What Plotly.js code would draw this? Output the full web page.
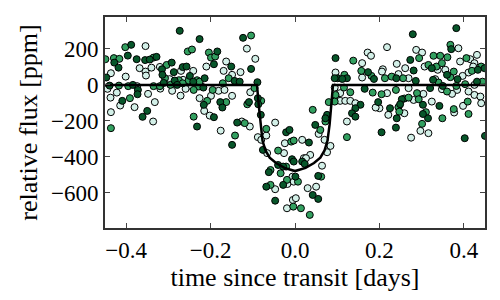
<!DOCTYPE html>
<html>
<head>
<meta charset="utf-8">
<script src="https://cdn.plot.ly/plotly-3.0.1.min.js"></script>
<style>html,body{margin:0;padding:0;background:#fff;}#chart{width:500px;height:300px;}</style>
</head>
<body>
<div id="chart"></div>
<script>
// Observations, dark-green group (time [days], flux [ppm])
const darkT = [-0.273,-0.388,-0.396,-0.428,-0.418,-0.375,-0.355,-0.344,-0.328,-0.315,-0.292,-0.266,-0.257,-0.249,-0.447,-0.314,-0.287,-0.285,-0.241,-0.439,-0.384,-0.311,-0.279,-0.372,-0.373,-0.409,-0.350,-0.361,-0.232,
  -0.123,-0.226,-0.184,-0.192,-0.151,-0.104,-0.143,-0.131,-0.214,-0.089,-0.217,-0.177,-0.172,-0.216,-0.109,-0.088,-0.087,-0.081,-0.192,-0.137,-0.149,-0.021,-0.013,-0.076,-0.007,-0.040,-0.028,-0.062,-0.028,-0.068,-0.047,
  0.048,0.205,0.033,0.017,0.023,-0.003,0.001,0.055,0.042,0.055,0.096,0.101,0.094,0.123,0.112,0.173,0.187,0.165,0.155,0.143,0.197,0.135,0.143,0.076,0.072,
  0.279,0.382,0.370,0.449,0.433,0.431,0.273,0.324,0.360,0.385,0.281,0.240,0.286,0.327,0.350,0.320,0.253,0.303,0.225,0.241,0.315,0.342,0.239,0.402,0.450,0.249,0.303];
const darkF = [301,223,163,124,96,143,138,141,156,87,124,99,102,50,41,56,71,24,18,-4,0,11,0,-28,-52,-89,-145,-178,-232,
  262,255,186,115,102,89,22,18,37,15,-15,-96,-126,-111,-96,-74,-108,-167,-180,-210,-334,-264,-251,-362,-414,-446,-455,-486,-557,-567,-645,
  -223,-264,-321,-427,-440,-427,-511,-507,-613,-635,149,37,37,37,33,71,33,-22,-111,-130,-96,-158,-177,-167,-186,
  282,316,199,93,84,18,139,93,56,32,80,37,22,28,-6,-18,-80,-111,-130,-186,-186,-117,-238,-297,-284,-108,-162];

// Observations, medium-green group
const medT = [-0.402,-0.449,-0.429,-0.416,-0.335,-0.304,-0.254,-0.244,-0.232,-0.308,-0.275,-0.252,-0.417,-0.395,-0.335,-0.320,-0.295,-0.266,-0.228,-0.240,-0.391,-0.240,-0.436,
  -0.104,-0.204,-0.199,-0.189,-0.157,-0.226,-0.171,-0.195,-0.096,-0.208,-0.163,-0.113,-0.080,-0.119,-0.142,-0.068,-0.040,-0.009,-0.021,-0.058,-0.034,-0.019,-0.058,-0.004,
  0.060,0.072,0.123,-0.003,0.007,0.062,0.014,0.035,0.138,0.117,0.157,0.181,0.213,0.116,0.131,0.184,0.205,0.096,0.094,0.080,0.042,
  0.368,0.328,0.344,0.361,0.406,0.441,0.419,0.444,0.403,0.382,0.294,0.316,0.335,0.348,0.368,0.376,0.229,0.256,0.340,0.360,0.239,0.289,0.259,0.269,0.293,0.310,0.245,0.247,0.349,0.376,0.409,0.411,0.301];
const medF = [210,143,149,145,152,111,186,197,26,37,26,24,-4,-7,-7,-7,0,9,-9,-28,-74,-177,-241,
  275,180,152,158,37,18,9,-28,-18,-89,-96,-108,-89,-213,-282,-245,-366,-316,-455,-474,-492,-529,-557,-678,
  -251,-204,-291,-310,-539,-511,-687,-724,135,56,78,50,37,-15,-41,-43,-52,-56,-93,-96,-139,
  223,162,162,154,149,102,78,18,4,-6,149,111,102,121,43,74,46,37,13,-37,-28,-46,-76,-71,-80,-152,-124,-149,-186,-135,-93,-162,-217];

// Observations, light group
const lightT = [-0.354,-0.340,-0.368,-0.354,-0.353,-0.320,-0.270,-0.241,-0.436,-0.401,-0.297,-0.265,-0.374,-0.249,-0.444,-0.422,-0.348,-0.319,-0.291,-0.271,-0.259,-0.437,-0.332,-0.414,-0.380,-0.436,-0.336,
  -0.114,-0.094,-0.210,-0.163,-0.169,-0.149,-0.129,-0.222,-0.181,-0.167,-0.106,-0.199,-0.149,-0.226,-0.215,-0.202,-0.126,-0.047,-0.107,-0.176,-0.088,-0.080,-0.068,-0.066,-0.026,-0.024,-0.006,-0.018,-0.047,-0.019,-0.005,
  0.056,0.123,0.017,0.070,0.084,0.076,0.036,0.021,0.026,-0.003,0.064,0.030,0.050,0.002,
  0.172,0.180,0.159,0.218,0.096,0.159,0.208,0.094,0.107,0.218,0.107,0.119,0.131,0.143,0.200,0.191,0.221,
  0.287,0.301,0.387,0.431,0.415,0.391,0.425,0.422,0.411,0.425,0.384,0.411,0.425,0.439,0.307,0.338,0.356,0.397,0.261,0.245,0.206,0.241,0.269,0.332,0.348,0.372,0.269,0.304,0.281,0.324,0.259,0.377,0.398,0.275,0.297,0.316,0.441];
const lightF = [216,96,93,74,52,100,78,78,65,46,32,28,-7,-4,-22,-43,-50,-21,-33,-60,-22,-71,-96,-115,-124,-152,-204,
  202,145,102,130,78,56,71,-6,-33,-28,-41,-61,-61,-74,-145,-171,-204,-210,-232,-255,-291,-306,-282,-380,-380,-325,-511,-552,-581,-687,-641,
  -273,-204,-306,-306,-340,-375,-390,-408,-408,-539,-450,-575,-567,-631,
  180,162,121,210,69,41,87,-15,-46,-46,-89,-89,-89,-102,-130,-126,-167,
  195,180,204,167,143,130,121,102,69,0,-28,-37,-56,-65,102,84,84,50,93,60,74,117,37,32,-24,-50,-18,-50,-84,-93,-158,-154,-117,-294,-256,-269,-102];

// Transit model
const modelT = [-0.45,-0.090,-0.086,-0.082,-0.077,-0.070,-0.060,-0.045,-0.025,0.000,0.025,0.045,0.060,0.070,0.077,0.082,0.086,0.090,0.45];
const modelF = [0,0,-110,-220,-310,-365,-405,-435,-462,-480,-462,-435,-405,-365,-310,-220,-110,0,0];

const xTicks = [-0.4,-0.2,0.0,0.2,0.4];
const yTicks = [-600,-400,-200,0,200];

function pts(x, y, color) {
  return {x: x, y: y, type: 'scatter', mode: 'markers', hoverinfo: 'skip',
    marker: {size: 7, color: color, line: {color: '#000', width: 1}}};
}

const traces = [
  pts(lightT, lightF, '#d3f0e8'),
  pts(medT, medF, '#32a060'),
  pts(darkT, darkF, '#07562a'),
  {x: modelT, y: modelF, type: 'scatter', mode: 'lines', hoverinfo: 'skip',
   line: {color: '#000', width: 2.5}}
];

const fontFam = '"Liberation Serif", "DejaVu Serif", serif';
const axisCommon = {
  showline: true, mirror: 'ticks', linecolor: '#333', linewidth: 2,
  ticks: 'inside', ticklen: 5, tickwidth: 1, tickcolor: '#444',
  showgrid: false, zeroline: false,
  tickfont: {family: fontFam, size: 23, color: '#000'}
};

const layout = {
  width: 500, height: 300,
  margin: {l: 105, r: 15, t: 17, b: 72},
  paper_bgcolor: '#fff', plot_bgcolor: '#fff',
  showlegend: false,
  font: {family: fontFam, color: '#000'},
  xaxis: Object.assign({}, axisCommon, {
    range: [-0.45, 0.45], tickvals: xTicks, tickformat: '.1f',
    title: {text: 'time since transit [days]', font: {family: fontFam, size: 26, color: '#000'}, standoff: 4}
  }),
  yaxis: Object.assign({}, axisCommon, {
    range: [-797, 378], tickvals: yTicks,
    title: {text: 'relative flux [ppm]', font: {family: fontFam, size: 26, color: '#000'}, standoff: 6}
  })
};

Plotly.newPlot('chart', traces, layout, {displayModeBar: false, staticPlot: true});
</script>
</body>
</html>
